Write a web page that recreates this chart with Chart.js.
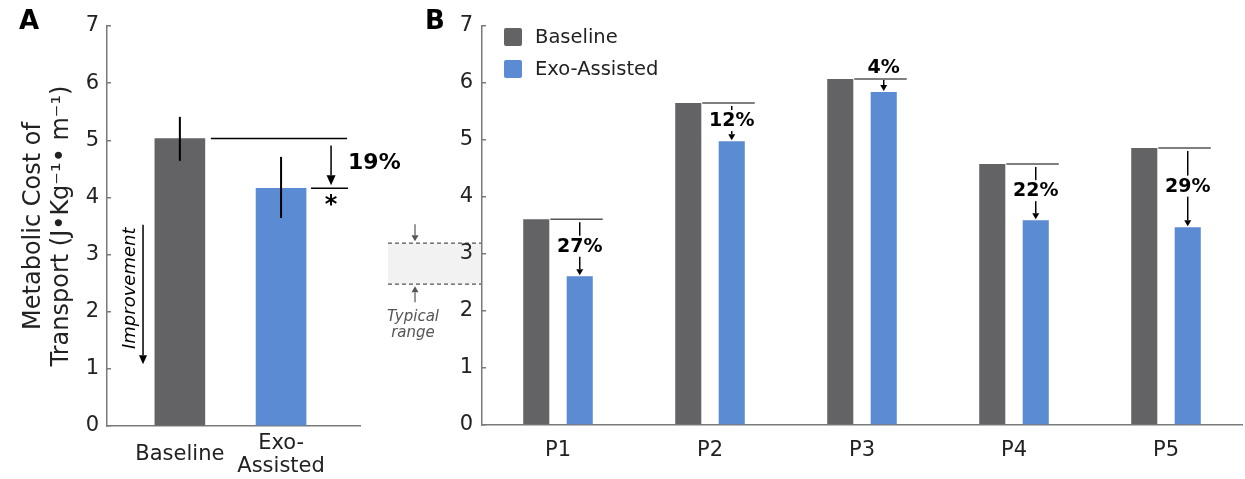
<!DOCTYPE html>
<html>
<head>
<meta charset="utf-8">
<script src="https://cdn.jsdelivr.net/npm/chart.js@4"></script>
<style>
  body { margin: 0; background: #fff; }
  #wrap { position: relative; width: 1245px; height: 479px; }
  #chartA { position: absolute; left: 0; top: 0; }
  #chartB { position: absolute; left: 380px; top: 0; }
</style>
</head>
<body>
<div id="wrap">
  <canvas id="chartA" width="420" height="479"></canvas>
  <canvas id="chartB" width="865" height="479"></canvas>
</div>
<script>
// panel A: group mean
const groupLabels = ['Baseline', ['Exo-', 'Assisted']];
const meanCost = [5.03, 4.16];
const errLow = [4.64, 3.64];
const errHigh = [5.41, 4.71];
const meanDrop = '19%';

// panel B: per participant
const participants = ['P1', 'P2', 'P3', 'P4', 'P5'];
const baselineCost = [3.61, 5.65, 6.07, 4.58, 4.86];
const exoCost = [2.61, 4.98, 5.84, 3.59, 3.47];
const dropLabels = ['27%', '12%', '4%', '22%', '29%'];
const typicalRange = [2.47, 3.19];

const GREY = '#636366';
const BLUE = '#5b8bd2';
const AXIS = '#7a7a7a';
const FONT = "'DejaVu Sans'";

Chart.defaults.font.family = FONT;
Chart.defaults.color = '#222';

function line(ctx, x1, y1, x2, y2) {
  ctx.beginPath();
  ctx.moveTo(x1, y1);
  ctx.lineTo(x2, y2);
  ctx.stroke();
}

function arrow(ctx, x, y1, y2, head, halfW) {
  const dir = y2 > y1 ? 1 : -1;
  line(ctx, x, y1, x, y2 - dir * head);
  ctx.beginPath();
  ctx.moveTo(x, y2);
  ctx.lineTo(x - halfW, y2 - dir * head);
  ctx.lineTo(x + halfW, y2 - dir * head);
  ctx.closePath();
  ctx.fill();
}

const annotateA = {
  id: 'annotateA',
  afterDatasetsDraw(chart) {
    const { ctx, scales: { x, y } } = chart;
    const bars = chart.getDatasetMeta(0).data;
    ctx.save();
    ctx.strokeStyle = '#000';
    ctx.fillStyle = '#000';
    // error bars
    ctx.lineWidth = 2;
    bars.forEach((b, i) => {
      line(ctx, b.x, y.getPixelForValue(errLow[i]), b.x, y.getPixelForValue(errHigh[i]));
    });
    // reduction marker
    const yb = y.getPixelForValue(meanCost[0]);
    const ye = y.getPixelForValue(meanCost[1]);
    const r0 = bars[0].x + bars[0].width / 2;
    const r1 = bars[1].x + bars[1].width / 2;
    ctx.lineWidth = 1.5;
    line(ctx, r0 + 6, yb, r1 + 41, yb);
    line(ctx, r1 + 5, ye, r1 + 42, ye);
    arrow(ctx, r1 + 25, yb + 7, ye - 3, 10, 4.5);
    ctx.font = 'bold 22px ' + FONT;
    ctx.textAlign = 'left';
    ctx.textBaseline = 'middle';
    ctx.fillText(meanDrop, r1 + 42, (yb + ye) / 2);
    ctx.textAlign = 'center';
    ctx.font = 'bold 24px ' + FONT;
    ctx.fillText('*', r1 + 25, ye + 17);
    // improvement arrow
    const ix = x.getPixelForValue(-0.364);
    arrow(ctx, ix, y.getPixelForValue(3.52), y.getPixelForValue(1.08), 9, 4);
    ctx.save();
    ctx.translate(x.getPixelForValue(-0.49), y.getPixelForValue(2.41));
    ctx.rotate(-Math.PI / 2);
    ctx.font = 'italic 18px ' + FONT;
    ctx.fillText('Improvement', 0, 0);
    ctx.restore();
    // panel letter
    ctx.textAlign = 'left';
    ctx.font = 'bold 26px ' + FONT;
    ctx.fillText('A', 19, 22);
    ctx.restore();
  }
};

const annotateB = {
  id: 'annotateB',
  beforeDraw(chart) {
    // typical range band left of the axis, under the tick labels
    const { ctx, chartArea, scales: { y } } = chart;
    const left = chartArea.left;
    const yTop = y.getPixelForValue(typicalRange[1]);
    const yBot = y.getPixelForValue(typicalRange[0]);
    ctx.save();
    ctx.fillStyle = '#f2f2f2';
    ctx.fillRect(left - 94, yTop, 93, yBot - yTop);
    ctx.strokeStyle = '#555';
    ctx.fillStyle = '#555';
    ctx.lineWidth = 1.2;
    ctx.setLineDash([4, 3]);
    line(ctx, left - 94, yTop, left - 1, yTop);
    line(ctx, left - 94, yBot, left - 1, yBot);
    ctx.setLineDash([]);
    arrow(ctx, left - 67, yTop - 19, yTop - 2, 6, 3.5);
    arrow(ctx, left - 67, yBot + 18, yBot + 2, 6, 3.5);
    ctx.font = 'italic 15px ' + FONT;
    ctx.textAlign = 'center';
    ctx.textBaseline = 'middle';
    ctx.fillText('Typical', left - 69, yBot + 33);
    ctx.fillText('range', left - 69, yBot + 49);
    ctx.restore();
  },
  afterDatasetsDraw(chart) {
    const { ctx, chartArea } = chart;
    const base = chart.getDatasetMeta(0).data;
    const exo = chart.getDatasetMeta(1).data;
    ctx.save();
    ctx.lineWidth = 1.5;
    ctx.textAlign = 'center';
    ctx.textBaseline = 'middle';
    ctx.font = 'bold 19px ' + FONT;
    base.forEach((b, i) => {
      const e = exo[i];
      const yb = b.y, ye = e.y;
      ctx.strokeStyle = '#555';
      line(ctx, b.x + b.width / 2 + 1, yb, e.x + e.width / 2 + 10, yb);
      ctx.strokeStyle = '#000';
      ctx.fillStyle = '#000';
      if (ye - yb > 25) {
        const mid = (yb + ye) / 2 - 1;
        line(ctx, e.x, yb + 3, e.x, mid - 11);
        ctx.fillText(dropLabels[i], e.x, mid);
        arrow(ctx, e.x, mid + 10, ye - 1, 6, 3.5);
      } else {
        ctx.fillText(dropLabels[i], e.x, yb - 11);
        arrow(ctx, e.x, yb + 1, ye - 1, 6, 3.5);
      }
    });

    // legend
    const left = chartArea.left;
    ctx.font = '19.5px ' + FONT;
    ctx.textAlign = 'left';
    chart.data.datasets.forEach((ds, i) => {
      const top = chartArea.top + 2 + i * 32;
      ctx.fillStyle = ds.backgroundColor;
      ctx.beginPath();
      ctx.roundRect(left + 22, top, 18, 18, 2);
      ctx.fill();
      ctx.fillStyle = '#222';
      ctx.fillText(ds.label, left + 53, top + 10);
    });

    // panel letter
    ctx.fillStyle = '#000';
    ctx.font = 'bold 26px ' + FONT;
    ctx.fillText('B', 45, 22);
    ctx.restore();
  }
};

// small inward tick marks on the value axis
const yScaleBase = {
  min: 0,
  max: 7,
  grid: { display: true, drawOnChartArea: false, drawTicks: true, tickLength: -4, color: AXIS, lineWidth: 1.5 },
  border: { display: true, color: AXIS, width: 1.5 },
  ticks: { stepSize: 1, font: { size: 21 }, color: '#222' }
};

new Chart(document.getElementById('chartA'), {
  type: 'bar',
  data: {
    datasets: [{
      data: meanCost.map((v, i) => ({ x: i, y: v })),
      backgroundColor: [GREY, BLUE],
      barThickness: 50
    }]
  },
  options: {
    responsive: false,
    animation: false,
    layout: { padding: { top: 26, right: 60, left: 0, bottom: 0 } },
    plugins: { legend: { display: false }, tooltip: { enabled: false } },
    scales: {
      x: {
        type: 'linear',
        offset: false,
        min: -0.72,
        max: 1.78,
        grid: { display: false, drawTicks: false },
        border: { display: true, color: AXIS, width: 1.5 },
        afterBuildTicks: s => { s.ticks = [{ value: 0 }, { value: 1 }]; },
        afterFit: s => { s.height = 53; },
        ticks: {
          callback: v => groupLabels[v],
          font: { size: 21, lineHeight: 1.05 },
          color: '#222',
          padding: 18,
          crossAlign: 'center',
          maxRotation: 0
        }
      },
      y: {
        ...yScaleBase,
        ticks: { ...yScaleBase.ticks, padding: 12 },
        afterFit: s => { s.width = 107; },
        title: {
          display: true,
          text: ['Metabolic Cost of', 'Transport (J\u2022Kg\u207B\u00B9\u2022 m\u207B\u00B9)'],
          font: { size: 24 },
          color: '#222',
          padding: { top: 19, bottom: 0 }
        }
      }
    }
  },
  plugins: [annotateA]
});

new Chart(document.getElementById('chartB'), {
  type: 'bar',
  data: {
    labels: participants,
    datasets: [
      { label: 'Baseline', data: baselineCost, backgroundColor: GREY },
      { label: 'Exo-Assisted', data: exoCost, backgroundColor: BLUE }
    ]
  },
  options: {
    responsive: false,
    animation: false,
    categoryPercentage: 0.572,
    barPercentage: 0.6,
    layout: { padding: { top: 26, right: 3, left: 0, bottom: 0 } },
    plugins: { legend: { display: false }, tooltip: { enabled: false } },
    scales: {
      x: {
        grid: { display: false, drawTicks: false },
        border: { display: true, color: AXIS, width: 1.5 },
        afterFit: s => { s.height = 54; },
        ticks: { font: { size: 21 }, color: '#222', padding: 13 }
      },
      y: {
        ...yScaleBase,
        ticks: { ...yScaleBase.ticks, padding: 13 },
        afterFit: s => { s.width = 102; }
      }
    }
  },
  plugins: [annotateB]
});
</script>
</body>
</html>
